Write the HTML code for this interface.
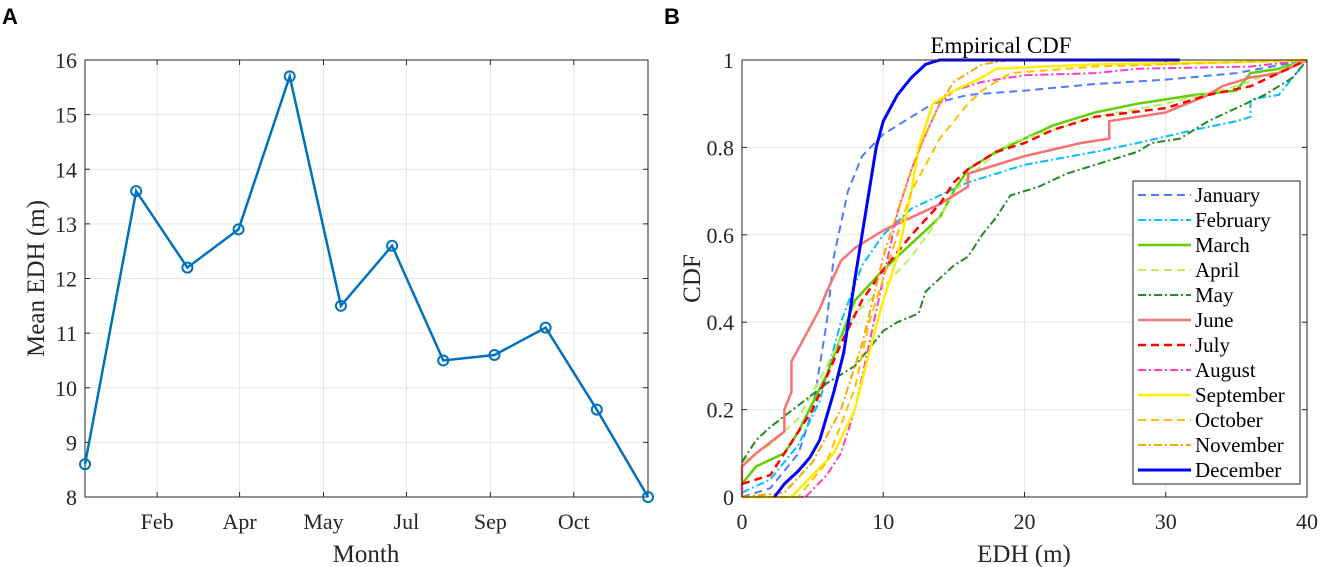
<!DOCTYPE html>
<html><head><meta charset="utf-8">
<style>
body{margin:0;background:#fff;width:1320px;height:567px;overflow:hidden}
svg{display:block}
text{font-family:"Liberation Serif",serif;fill:#262626}
</style></head>
<body>
<svg id="fig" width="1320" height="567">
<text x="2" y="24" style="font-family:'Liberation Sans',sans-serif;font-weight:bold;font-size:22px;fill:#000">A</text>
<text x="664" y="24" style="font-family:'Liberation Sans',sans-serif;font-weight:bold;font-size:22px;fill:#000">B</text>
<g id="chartA"></g>
<g id="chartB"></g>
</svg>
<script>
// ---- Panel A data ----
const monthValues = [8.6,13.6,12.2,12.9,15.7,11.5,12.6,10.5,10.6,11.1,9.6,8.0];
const monthTickLabels = ["Feb","Apr","May","Jul","Sep","Oct"];
const monthTickPos = [1.41,3.02,4.66,6.28,7.92,9.55];
const yTicksA = [8,9,10,11,12,13,14,15,16];
// ---- Panel B data ----
const cdfMonths = ["January","February","March","April","May","June","July","August","September","October","November","December"];
const cdfData = {};
cdfData.January=[[0,0],[2,0.02],[4,0.1],[5,0.2],[6,0.4],[6.5,0.55],[7.5,0.7],[8.5,0.78],[10,0.83],[12,0.87],[13.5,0.9],[16,0.92],[20,0.93],[25,0.945],[30,0.955],[35,0.97],[40,1]];
cdfData.February=[[0,0.01],[2,0.04],[4,0.12],[5.5,0.22],[7,0.4],[8.5,0.53],[10,0.6],[12,0.66],[14,0.69],[16,0.72],[18,0.74],[20,0.76],[25,0.79],[28,0.81],[32,0.84],[35,0.86],[36,0.87],[36,0.91],[38,0.92],[39,0.96],[40,1]];
cdfData.March=[[0,0.03],[1,0.07],[3,0.1],[4,0.15],[6,0.28],[8,0.45],[10,0.52],[12,0.58],[14,0.64],[15,0.7],[16,0.75],[18,0.79],[20,0.82],[22,0.85],[25,0.88],[28,0.9],[32,0.92],[35,0.93],[36,0.97],[38,0.98],[40,1]];
cdfData.April=[[0,0.08],[2,0.12],[4,0.18],[6,0.3],[8,0.42],[10,0.48],[12,0.55],[14,0.64],[15,0.7],[17,0.76],[19,0.81],[21,0.83],[25,0.87],[30,0.9],[35,0.94],[40,1]];
cdfData.May=[[0,0.08],[1,0.13],[2,0.16],[4,0.21],[6,0.26],[8,0.3],[9,0.34],[10,0.38],[11,0.4],[12.5,0.42],[13,0.47],[14,0.5],[15,0.53],[16,0.55],[17,0.6],[18,0.64],[19,0.69],[21,0.71],[23,0.74],[25,0.76],[28,0.79],[29,0.81],[31,0.82],[32,0.84],[33,0.86],[35,0.89],[37,0.92],[39,0.96],[40,1]];
cdfData.June=[[0,0],[0,0.07],[1,0.1],[3,0.15],[3,0.2],[3.5,0.24],[3.5,0.31],[4.5,0.37],[5.5,0.43],[6,0.47],[7,0.54],[8,0.57],[9,0.59],[10,0.61],[12,0.64],[14,0.67],[16,0.71],[16,0.74],[18,0.76],[20,0.78],[24,0.81],[26,0.82],[26,0.86],[28,0.87],[30,0.88],[33,0.92],[34,0.94],[36,0.96],[38,0.97],[40,1]];
cdfData.July=[[0,0.03],[2,0.05],[3,0.1],[5,0.2],[7,0.35],[8.5,0.45],[10,0.52],[12,0.6],[14,0.67],[15,0.72],[16,0.75],[18,0.79],[20,0.81],[22,0.84],[25,0.87],[30,0.89],[33,0.92],[36,0.94],[40,1]];
cdfData.August=[[0,0],[4.5,0],[6,0.05],[7,0.1],[8,0.2],[9,0.35],[10,0.5],[11,0.65],[12,0.75],[13,0.83],[14,0.9],[15,0.93],[17,0.95],[20,0.965],[25,0.97],[28,0.98],[36,0.985],[40,1]];
cdfData.September=[[0,0],[3.5,0],[5,0.05],[6.5,0.1],[8,0.2],[9,0.33],[10,0.45],[11,0.55],[12,0.7],[12.5,0.8],[13.5,0.9],[15,0.93],[17,0.96],[18,0.98],[25,0.99],[35,0.995],[40,1]];
cdfData.October=[[0,0],[4,0],[6,0.08],[8,0.25],[9,0.4],[10,0.5],[11,0.6],[12,0.7],[13,0.76],[14,0.82],[15,0.86],[16,0.9],[17,0.93],[19,0.97],[25,0.985],[40,1]];
cdfData.November=[[0,0],[3,0.01],[5,0.08],[7,0.2],[8.5,0.35],[10,0.55],[11,0.65],[12,0.75],[13,0.83],[14,0.9],[15,0.95],[17,0.99],[19,1]];
cdfData.December=[[2.3,0],[3,0.03],[4,0.06],[4.8,0.09],[5.5,0.13],[6.5,0.24],[7.2,0.33],[8,0.5],[8.5,0.6],[9,0.7],[9.5,0.8],[10,0.86],[11,0.92],[12,0.96],[13,0.99],[14,1],[31,1]];
const xTicksB = [0,10,20,30,40];
const yTicksB = [0,0.2,0.4,0.6,0.8,1];
const yTickLabelsB = ["0","0.2","0.4","0.6","0.8","1"];

const NS="http://www.w3.org/2000/svg";
function mk(parent,tag,attrs,txt){const e=document.createElementNS(NS,tag);for(const k in attrs)e.setAttribute(k,attrs[k]);if(txt!==undefined)e.textContent=txt;parent.appendChild(e);return e;}
const TF=22, AF=25;

// ---- Panel A ----
(function(){
const g=document.getElementById('chartA');
const L=85,R=648,T=60,B=497;
const xs=i=>L+(R-L)*i/11, ys=v=>B-(B-T)*(v-8)/8;
yTicksA.forEach(v=>{
 const l=mk(g,'line',{x1:L,x2:R,y1:ys(v),y2:ys(v),stroke:'#e6e6e6','stroke-width':1});
 
 const t=mk(g,'text',{x:L-8,y:ys(v)+8,'text-anchor':'end','font-size':TF},String(v));
 
 mk(g,'line',{x1:L,x2:L+5,y1:ys(v),y2:ys(v),stroke:'#262626'});
 mk(g,'line',{x1:R,x2:R-5,y1:ys(v),y2:ys(v),stroke:'#262626'});
});
monthTickPos.forEach((p,i)=>{
 const x=xs(p);
 const l=mk(g,'line',{x1:x,x2:x,y1:T,y2:B,stroke:'#e6e6e6'});
 
 mk(g,'line',{x1:x,x2:x,y1:B,y2:B-5,stroke:'#262626'});
 mk(g,'line',{x1:x,x2:x,y1:T,y2:T+5,stroke:'#262626'});
 const t=mk(g,'text',{x:x,y:B+32,'text-anchor':'middle','font-size':TF},monthTickLabels[i]);
 
});
const box=mk(g,'rect',{x:L,y:T,width:R-L,height:B-T,fill:'none',stroke:'#262626','stroke-width':1});

const pts=monthValues.map((v,i)=>xs(i)+','+ys(v)).join(' ');
const line=mk(g,'polyline',{points:pts,fill:'none',stroke:'#0072bd','stroke-width':2.5});

monthValues.forEach((v,i)=>{
 const c=mk(g,'circle',{cx:xs(i),cy:ys(v),r:5,fill:'none',stroke:'#0072bd','stroke-width':2});
 
});
const xl=mk(g,'text',{x:366,y:562,'text-anchor':'middle','font-size':AF},'Month');

const yl=mk(g,'text',{x:0,y:0,'text-anchor':'middle','font-size':AF,transform:'translate(44,'+((T+B)/2)+') rotate(-90)'},'Mean EDH (m)');

})();

// ---- Panel B ----
(function(){
const g=document.getElementById('chartB');
const L=742,R=1307,T=60,B=497;
const xs=v=>L+(R-L)*v/40, ys=v=>B-(B-T)*v;
yTicksB.forEach((v,i)=>{
 const l=mk(g,'line',{x1:L,x2:R,y1:ys(v),y2:ys(v),stroke:'#e6e6e6'});
 
 mk(g,'line',{x1:L,x2:L+5,y1:ys(v),y2:ys(v),stroke:'#262626'});
 mk(g,'line',{x1:R,x2:R-5,y1:ys(v),y2:ys(v),stroke:'#262626'});
 const t=mk(g,'text',{x:L-8,y:ys(v)+8,'text-anchor':'end','font-size':TF},yTickLabelsB[i]);
 
});
xTicksB.forEach(v=>{
 const l=mk(g,'line',{x1:xs(v),x2:xs(v),y1:T,y2:B,stroke:'#e6e6e6'});
 
 mk(g,'line',{x1:xs(v),x2:xs(v),y1:B,y2:B-5,stroke:'#262626'});
 mk(g,'line',{x1:xs(v),x2:xs(v),y1:T,y2:T+5,stroke:'#262626'});
 const t=mk(g,'text',{x:xs(v),y:B+32,'text-anchor':'middle','font-size':TF},String(v));
 
});
const styles={January:['#4f7cff','8,5',2],February:['#00bfff','8,3,2,3',2],March:['#5ed000','',2.5],April:['#b8f060','8,5',2],
May:['#238b23','8,3,2,3',2],June:['#f87272','',2.5],July:['#ff0000','8,5',2.5],August:['#ff3cbe','8,3,2,3',2],
September:['#ffee00','',2.5],October:['#ffc000','8,5',2],November:['#ffa500','8,3,2,3',2],December:['#0000ff','',3]};
cdfMonths.forEach(m=>{
 const s=styles[m];
 const pts=cdfData[m].map(p=>xs(p[0])+','+ys(p[1])).join(' ');
 const pl=mk(g,'polyline',{points:pts,fill:'none',stroke:s[0],'stroke-width':s[2],'stroke-dasharray':s[1]});
 
});
const box=mk(g,'rect',{x:L,y:T,width:R-L,height:B-T,fill:'none',stroke:'#262626'});

const tt=mk(g,'text',{x:1001,y:53,'text-anchor':'middle','font-size':23,style:'fill:#000'},'Empirical CDF');

const xl=mk(g,'text',{x:1024,y:562,'text-anchor':'middle','font-size':AF},'EDH (m)');

const yl=mk(g,'text',{x:0,y:0,'text-anchor':'middle','font-size':AF,transform:'translate(700,'+((T+B)/2)+') rotate(-90)'},'CDF');

// legend
const lg=mk(g,'g',{});

mk(lg,'rect',{x:1133,y:181,width:167,height:303,fill:'#fff',stroke:'#262626'});
cdfMonths.forEach((m,i)=>{
 const s=styles[m];const y=195+i*25;
 const e=mk(lg,'g',{});
 
 mk(e,'line',{x1:1138,x2:1191,y1:y,y2:y,stroke:s[0],'stroke-width':s[2],'stroke-dasharray':s[1]});
 mk(e,'text',{x:1195,y:y+7,'font-size':21,style:'fill:#000'},m);
});
})();
</script>
</body></html>
